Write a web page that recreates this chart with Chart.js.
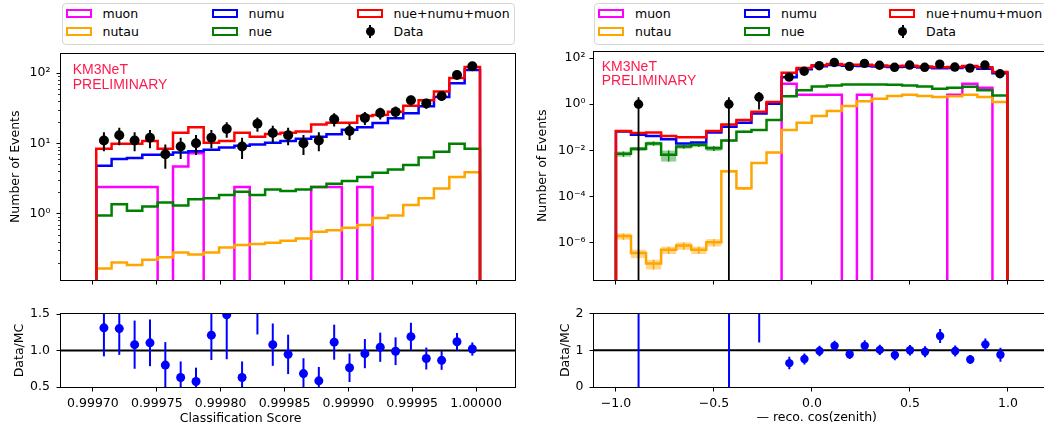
<!DOCTYPE html>
<html>
<head>
<meta charset="utf-8">
<title>KM3NeT data/MC</title>
<script src="https://cdn.jsdelivr.net/npm/chart.js@4.4.1/dist/chart.umd.min.js"></script>
<style>
  html, body { margin: 0; padding: 0; background: #fff; }
  body { width: 1044px; height: 432px; overflow: hidden; position: relative; font-family: 'DejaVu Sans', sans-serif; }
  .pane { position: absolute; }
  .legend { position: absolute; top: 2.5px; height: 42px; width: 453px; box-sizing: border-box; border: 1px solid #d6d6d6; border-radius: 4px; background: #fff; font-size: 12.5px; color: #000; }
  .item { position: absolute; height: 15px; line-height: 15px; white-space: nowrap; }
  .item .sw { position: absolute; left: 0; top: 3px; width: 26px; height: 9px; box-sizing: border-box; border: 2px solid; }
  .item .dot { position: absolute; left: 9px; top: 3px; width: 9px; height: 9px; border-radius: 50%; background: #000; }
  .item .bar { position: absolute; left: 12.5px; top: 1px; width: 2px; height: 13px; background: #000; }
  .item .txt { position: absolute; left: 37px; top: 0; }
</style>
</head>
<body>
<div class="legend" id="legL" style="left:61.5px"></div>
<div class="legend" id="legR" style="left:594px"></div>
<div class="pane" style="left:0;top:40px"><canvas id="cTL" width="525" height="260"></canvas></div>
<div class="pane" style="left:0;top:300px"><canvas id="cBL" width="525" height="132"></canvas></div>
<div class="pane" style="left:525px;top:40px"><canvas id="cTR" width="525" height="260"></canvas></div>
<div class="pane" style="left:525px;top:300px"><canvas id="cBR" width="525" height="132"></canvas></div>
<script>
// legend entries (matplotlib fills the 3 columns top to bottom)
const seriesNames = ['muon', 'nutau', 'numu', 'nue', 'nue+numu+muon', 'Data'];
const seriesColors = ['#ff00ff', '#ffa500', '#0000ff', '#008000', '#ff0000', '#000000'];

// ---- left: classification score, 25 bins ----
const scoreLo = 0.9997026, scoreBinW = 0.00001202;
const scoreData  = [11, 13, 11, 12, 7, 9, 10, 12, 16, 9, 19, 14, 13, 10, 11, 22, 15, 23, 27, 28, 41, 37, 47, 94, 125];
const scoreSum   = [8.4, 9.9, 9.9, 10.8, 8.4, 14.1, 17.0, 10.2, 10.8, 14.1, 12.4, 13.6, 14.1, 14.7, 18.6, 19.6, 19.6, 24.5, 25.3, 28.2, 34.2, 40.9, 54.7, 84.9, 122];
const scoreNumu  = [4.8, 6.0, 6.2, 6.9, 6.9, 7.4, 7.7, 8.1, 8.7, 9.2, 9.6, 10.2, 10.8, 11.6, 12.4, 13.5, 15.6, 17.0, 19.4, 22.7, 26.7, 33.8, 45.7, 71.6, 110];
const scoreNue   = [0.94, 1.36, 1.10, 1.26, 1.44, 1.31, 1.60, 1.65, 1.84, 2.05, 1.84, 2.20, 2.09, 2.20, 2.40, 2.67, 2.91, 3.31, 3.80, 4.24, 4.92, 6.30, 7.56, 9.87, 8.4];
const scoreNutau = [0.166, 0.201, 0.186, 0.221, 0.240, 0.279, 0.262, 0.279, 0.331, 0.358, 0.370, 0.385, 0.411, 0.443, 0.554, 0.579, 0.630, 0.687, 0.869, 0.937, 1.33, 1.65, 2.28, 3.31, 3.89];
const scoreMuon  = [2.4, 2.4, 2.4, 2.4, 0, 4.7, 7.2, 0, 0, 2.4, 0, 0, 0, 0, 2.4, 2.4, 0, 2.4, 0, 0, 0, 0, 0, 0, 0];
const scoreRatio    = [1.31, 1.30, 1.08, 1.105, 0.80, 0.63, 0.575, 1.21, 1.49, 0.63, 1.60, 1.08, 0.947, 0.684, 0.584, 1.114, 0.763, 0.957, 1.045, 0.99, 1.19, 0.89, 0.865, 1.12, 1.02];
const scoreRatioErr = [0.39, 0.36, 0.33, 0.32, 0.315, 0.22, 0.19, 0.34, 0.61, 0.22, 0.38, 0.29, 0.27, 0.21, 0.19, 0.24, 0.195, 0.20, 0.20, 0.19, 0.19, 0.15, 0.13, 0.12, 0.09];
const scoreTicks = [0.99970, 0.99975, 0.99980, 0.99985, 0.99990, 0.99995, 1.00000];
const scoreCountExp = [0, 1, 2];
const scoreRatioTicks = [0.5, 1.0, 1.5];

// ---- right: - reco. cos(zenith), 26 bins from -1 to 1 ----
const cosLo = -1, cosHi = 1;
const cosData  = [0, 1, 0, 0, 0, 0, 0, 1, 0, 2, 0, 15, 27, 47, 65, 44, 59, 49, 40, 50, 40, 55, 41, 37, 50, 21];
const cosSum   = [0.069, 0.057, 0.060, 0.042, 0.037, 0.037, 0.069, 0.133, 0.206, 0.47, 1.26, 23.5, 37, 49, 56, 52, 51, 48, 46, 47, 43, 40, 41, 46, 40, 25];
const cosNumu  = [0.066, 0.047, 0.042, 0.030, 0.020, 0.022, 0.060, 0.106, 0.157, 0.395, 1.06, 14.8, 33, 44, 50, 47, 46, 43, 41, 42, 39, 36, 37, 41, 35, 22];
const cosNue   = [0.0071, 0.0117, 0.020, 0.0065, 0.0147, 0.0174, 0.0124, 0.0266, 0.0647, 0.0766, 0.206, 2.2, 4.0, 5.9, 6.5, 7.2, 7.2, 7.2, 7.0, 6.5, 5.9, 4.7, 5.2, 5.8, 4.0, 2.4];
const cosNutau = [1.9e-6, 3.5e-7, 1.23e-7, 4.9e-7, 7.5e-7, 4.9e-7, 1.04e-6, 1.24e-3, 2.25e-4, 2.8e-3, 8.1e-3, 0.077, 0.157, 0.305, 0.515, 0.845, 1.35, 1.74, 2.27, 2.58, 2.3, 2.06, 2.2, 2.58, 2.06, 1.26];
const cosMuon  = [0, 0, 0, 0, 0, 0, 0, 0, 0, 0, 0, 7.7, 2.58, 2.58, 2.58, 0, 2.58, 0, 0, 0, 0, 0, 2.58, 7.7, 5.2, 0];
// relative MC uncertainty (shaded boxes)
const cosNutauErr = [0.3, 0.4, 0.45, 0.35, 0.35, 0.35, 0.35, 0.15, 0.15, 0.08, 0.08, 0.03, 0.02, 0.02, 0.02, 0.02, 0.02, 0.02, 0.02, 0.02, 0.02, 0.02, 0.02, 0.02, 0.02, 0.02];
const cosNueErr   = [0.25, 0.2, 0.2, 0.5, 0.2, 0.2, 0.25, 0.1, 0.1, 0.08, 0.05, 0.02, 0.02, 0.02, 0.02, 0.02, 0.02, 0.02, 0.02, 0.02, 0.02, 0.02, 0.02, 0.02, 0.02, 0.02];
const cosRatio    = [null, 16.5, null, null, null, null, null, 7.5, null, 4.26, null, 0.65, 0.76, 0.98, 1.12, 0.89, 1.12, 1.01, 0.87, 1.0, 0.96, 1.39, 0.98, 0.75, 1.16, 0.88];
const cosRatioErr = [null, 16.5, null, null, null, null, null, 7.5, null, 3.05, null, 0.17, 0.15, 0.14, 0.14, 0.13, 0.15, 0.14, 0.14, 0.14, 0.15, 0.19, 0.15, 0.12, 0.16, 0.19];
const cosTicks = [-1.0, -0.5, 0.0, 0.5, 1.0];
const cosCountExp = [-6, -4, -2, 0, 2];
const cosRatioTicks = [0, 1, 2];

const ratioRef = 1;

// ---- helpers ----
const colorOf = name => seriesColors[seriesNames.indexOf(name)];
const SUP = {'-': '⁻', '0': '⁰', '1': '¹', '2': '²', '3': '³', '4': '⁴', '5': '⁵', '6': '⁶', '7': '⁷', '8': '⁸', '9': '⁹'};
const pow10Label = e => '10' + String(e).split('').map(c => SUP[c]).join('');
const minusSign = s => s.replace('-', '\u2212');

const scoreEdges = Array.from({length: scoreData.length + 1}, (_, i) => scoreLo + i * scoreBinW);
const scoreCenters = scoreData.map((_, i) => scoreLo + (i + 0.5) * scoreBinW);
const cosW = (cosHi - cosLo) / cosData.length;
const cosEdges = Array.from({length: cosData.length + 1}, (_, i) => cosLo + i * cosW);
const cosCenters = cosData.map((_, i) => cosLo + (i + 0.5) * cosW);

const xL = {min: 0.999675, max: 1.0000305};
const xR = {min: -1.112, max: 1.193};
const floorL = 1e-3, floorR = 1e-10;

Chart.defaults.font.family = "'DejaVu Sans', sans-serif";
Chart.defaults.font.size = 12.5;
Chart.defaults.color = '#000';

// step outline, starting and ending on the floor like histtype='step'
function steps(edges, vals, floor) {
  const n = vals.length;
  const pts = [{x: edges[0], y: floor}];
  vals.forEach((v, i) => pts.push({x: edges[i], y: v > 0 ? v : floor}));
  pts.push({x: edges[n], y: vals[n - 1] > 0 ? vals[n - 1] : floor});
  pts.push({x: edges[n], y: floor});
  return pts;
}

function hist(label, edges, vals, floor) {
  return {label, data: steps(edges, vals, floor), borderColor: colorOf(label), borderWidth: 2.5,
          pointRadius: 0, stepped: 'before', fill: false};
}

function points(label, xs, ys, color, r) {
  const data = [];
  ys.forEach((v, i) => { if (v != null && v > 0) data.push({x: xs[i], y: v}); });
  return {label, data, showLine: false, pointRadius: r, pointHoverRadius: r,
          pointBackgroundColor: color, pointBorderColor: color, pointBorderWidth: 0, clip: 0};
}

const gridOpts = {display: true, drawOnChartArea: false, drawTicks: true, tickLength: 4.5, tickColor: '#000', tickWidth: 1};

function axisX(lim, ticks, fmt, labels, h) {
  return {
    type: 'linear', min: lim.min, max: lim.max, bounds: 'data',
    afterBuildTicks: s => { s.ticks = ticks.map(v => ({value: v})); },
    afterFit: s => { s.height = h; },
    ticks: {display: labels, autoSkip: false, maxRotation: 0, padding: 5, callback: fmt},
    grid: gridOpts, border: {display: false}
  };
}

function axisY(type, min, max, ticks, fmt, w, pad, title, titlePad) {
  return {
    type, min, max, bounds: 'data',
    afterBuildTicks: s => { s.ticks = ticks.map(v => ({value: v})); },
    afterFit: s => { s.width = w; },
    ticks: {autoSkip: false, padding: pad, callback: fmt},
    grid: gridOpts, border: {display: false},
    title: {display: true, text: title, padding: {top: titlePad, bottom: 0}}
  };
}

function baseOpts(pad, x, y) {
  return {
    responsive: false, animation: false, events: [],
    layout: {padding: {top: pad.top, right: pad.right, left: 0, bottom: 0}},
    plugins: {legend: {display: false}, tooltip: {enabled: false}},
    scales: {x, y}
  };
}

// error bars, shaded MC boxes, frame, minor ticks and free text
function deco(cfg) {
  return {
    id: 'deco',
    beforeDatasetsDraw(chart) {
      const {ctx, chartArea: a} = chart, sx = chart.scales.x, sy = chart.scales.y;
      ctx.save();
      ctx.beginPath(); ctx.rect(a.left, a.top, a.right - a.left, a.bottom - a.top); ctx.clip();
      (cfg.bands || []).forEach(b => {
        b.vals.forEach((v, i) => {
          const f = b.frac[i];
          if (!(v > 0) || !f) return;
          const x0 = sx.getPixelForValue(b.edges[i]), x1 = sx.getPixelForValue(b.edges[i + 1]);
          const y0 = sy.getPixelForValue(v * (1 + f)), y1 = sy.getPixelForValue(v * (1 - f));
          ctx.fillStyle = b.fill;
          ctx.fillRect(x0, y0, x1 - x0, y1 - y0);
          const xc = (x0 + x1) / 2;
          ctx.strokeStyle = b.line; ctx.lineWidth = 1.5;
          ctx.beginPath(); ctx.moveTo(xc, y0); ctx.lineTo(xc, y1); ctx.stroke();
        });
      });
      ctx.restore();
    },
    afterDatasetsDraw(chart) {
      const {ctx, chartArea: a} = chart, sx = chart.scales.x, sy = chart.scales.y;
      ctx.save();
      ctx.beginPath(); ctx.rect(a.left, a.top, a.right - a.left, a.bottom - a.top); ctx.clip();
      (cfg.bars || []).forEach(b => {
        ctx.strokeStyle = b.color; ctx.lineWidth = b.width;
        b.ys.forEach((v, i) => {
          if (v == null || !(v > 0) || !b.err[i]) return;
          const px = sx.getPixelForValue(b.xs[i]);
          const lo = Math.max(v - b.err[i], b.floor), hi = v + b.err[i];
          ctx.beginPath();
          ctx.moveTo(px, sy.getPixelForValue(lo));
          ctx.lineTo(px, sy.getPixelForValue(hi));
          ctx.stroke();
        });
      });
      ctx.restore();

      ctx.save();
      ctx.strokeStyle = '#000'; ctx.lineWidth = 1;
      const l = Math.round(a.left) - 0.5, t = Math.round(a.top) - 0.5;
      ctx.strokeRect(l, t, Math.round(a.right) - Math.round(a.left) + 1, Math.round(a.bottom) - Math.round(a.top) + 1);
      ctx.lineWidth = 0.8;
      (cfg.minorY || []).forEach(v => {
        if (v < sy.min || v > sy.max) return;
        const py = Math.round(sy.getPixelForValue(v)) + 0.5;
        ctx.beginPath(); ctx.moveTo(l, py); ctx.lineTo(l - 2.5, py); ctx.stroke();
      });
      (cfg.texts || []).forEach(s => {
        ctx.font = s.font; ctx.fillStyle = s.color || '#000';
        ctx.textAlign = s.align || 'left'; ctx.textBaseline = s.baseline || 'alphabetic';
        const x = s.rel ? a.left + s.x : s.x, y = s.rel ? a.top + s.y : s.y;
        ctx.fillText(s.text, x, y);
      });
      ctx.restore();
    }
  };
}

const km3Color = '#ff1a4d';
const km3Font = '14px "Liberation Sans", Arial, sans-serif';
const labelFont = "12.5px 'DejaVu Sans', sans-serif";

const scoreMinor = [];
[-1, 0, 1, 2].forEach(e => { for (let m = 2; m < 10; m++) scoreMinor.push(m * Math.pow(10, e)); });

// ---- top left ----
new Chart(document.getElementById('cTL'), {
  type: 'line',
  data: {datasets: [
    points('Data', scoreCenters, scoreData, colorOf('Data'), 5),
    hist('nue+numu+muon', scoreEdges, scoreSum, floorL),
    hist('nue', scoreEdges, scoreNue, floorL),
    hist('numu', scoreEdges, scoreNumu, floorL),
    hist('nutau', scoreEdges, scoreNutau, floorL),
    hist('muon', scoreEdges, scoreMuon, floorL)
  ]},
  options: baseOpts({top: 9, right: 10},
    axisX(xL, scoreTicks, v => v.toFixed(5), false, 20),
    axisY('logarithmic', 0.1137, 189.6, scoreCountExp.map(e => Math.pow(10, e)),
          v => pow10Label(Math.round(Math.log10(v))), 61, 6, 'Number of Events', 8)),
  plugins: [deco({
    bars: [{xs: scoreCenters, ys: scoreData, err: scoreData.map(Math.sqrt), color: '#000', width: 2, floor: floorL}],
    minorY: scoreMinor,
    texts: [
      {text: 'KM3NeT', x: 11.7, y: 20.3, rel: true, font: km3Font, color: km3Color},
      {text: 'PRELIMINARY', x: 11.7, y: 35, rel: true, font: km3Font, color: km3Color}
    ]
  })]
});

// ---- bottom left ----
new Chart(document.getElementById('cBL'), {
  type: 'line',
  data: {datasets: [
    points('Data/MC', scoreCenters, scoreRatio, colorOf('numu'), 4.5),
    {label: 'ref', data: [{x: xL.min, y: ratioRef}, {x: xL.max, y: ratioRef}], borderColor: '#000', borderWidth: 2, pointRadius: 0}
  ]},
  options: baseOpts({top: 11, right: 10},
    axisX(xL, scoreTicks, v => v.toFixed(5), true, 45),
    axisY('linear', 0.5, 1.5, scoreRatioTicks, v => v.toFixed(1), 61, 6.5, 'Data/MC', 12.7)),
  plugins: [deco({
    bars: [{xs: scoreCenters, ys: scoreRatio, err: scoreRatioErr, color: colorOf('numu'), width: 2, floor: -1e9}],
    texts: [{text: 'Classification Score', x: 240.7, y: 119, font: labelFont, align: 'center', baseline: 'middle'}]
  })]
});

// ---- top right ----
new Chart(document.getElementById('cTR'), {
  type: 'line',
  data: {datasets: [
    points('Data', cosCenters, cosData, colorOf('Data'), 4.7),
    hist('nue+numu+muon', cosEdges, cosSum, floorR),
    hist('nue', cosEdges, cosNue, floorR),
    hist('numu', cosEdges, cosNumu, floorR),
    hist('nutau', cosEdges, cosNutau, floorR),
    hist('muon', cosEdges, cosMuon, floorR)
  ]},
  options: baseOpts({top: 9, right: 2},
    axisX(xR, cosTicks, v => minusSign(v.toFixed(1)), false, 20),
    axisY('logarithmic', 2.37e-8, 194, cosCountExp.map(e => Math.pow(10, e)),
          v => pow10Label(Math.round(Math.log10(v))), 69, 4, 'Number of Events', 10)),
  plugins: [deco({
    bands: [
      {edges: cosEdges, vals: cosNutau, frac: cosNutauErr, fill: 'rgba(255,165,0,0.45)', line: colorOf('nutau')},
      {edges: cosEdges, vals: cosNue, frac: cosNueErr, fill: 'rgba(0,128,0,0.4)', line: colorOf('nue')}
    ],
    bars: [{xs: cosCenters, ys: cosData, err: cosData.map(Math.sqrt), color: '#000', width: 1.8, floor: floorR}],
    texts: [
      {text: 'KM3NeT', x: 7.7, y: 19.3, rel: true, font: km3Font, color: km3Color},
      {text: 'PRELIMINARY', x: 7.7, y: 33.3, rel: true, font: km3Font, color: km3Color}
    ]
  })]
});

// ---- bottom right ----
new Chart(document.getElementById('cBR'), {
  type: 'line',
  data: {datasets: [
    points('Data/MC', cosCenters, cosRatio, colorOf('numu'), 4.2),
    {label: 'ref', data: [{x: xR.min, y: ratioRef}, {x: xR.max, y: ratioRef}], borderColor: '#000', borderWidth: 2, pointRadius: 0}
  ]},
  options: baseOpts({top: 11, right: 2},
    axisX(xR, cosTicks, v => minusSign(v.toFixed(1)), true, 45),
    axisY('linear', 0, 2, cosRatioTicks, v => String(v), 69, 6, 'Data/MC', 32.8)),
  plugins: [deco({
    bars: [{xs: cosCenters, ys: cosRatio, err: cosRatioErr, color: colorOf('numu'), width: 2, floor: -1e9}],
    texts: [{text: '\u2014 reco. cos(zenith)', x: 291.7, y: 118, font: labelFont, align: 'center', baseline: 'middle'}]
  })]
});

// ---- legends ----
function buildLegend(id) {
  const box = document.getElementById(id);
  const colX = [3, 149, 294], rowY = [2, 20.7];
  seriesNames.forEach((name, i) => {
    const item = document.createElement('div');
    item.className = 'item';
    item.style.left = colX[Math.floor(i / 2)] + 'px';
    item.style.top = rowY[i % 2] + 'px';
    if (name === 'Data') {
      item.innerHTML = '<div class="bar"></div><div class="dot"></div>';
    } else {
      item.innerHTML = '<div class="sw" style="border-color:' + colorOf(name) + '"></div>';
    }
    const t = document.createElement('span');
    t.className = 'txt';
    t.textContent = name;
    item.appendChild(t);
    box.appendChild(item);
  });
}
buildLegend('legL');
buildLegend('legR');
</script>
</body>
</html>
